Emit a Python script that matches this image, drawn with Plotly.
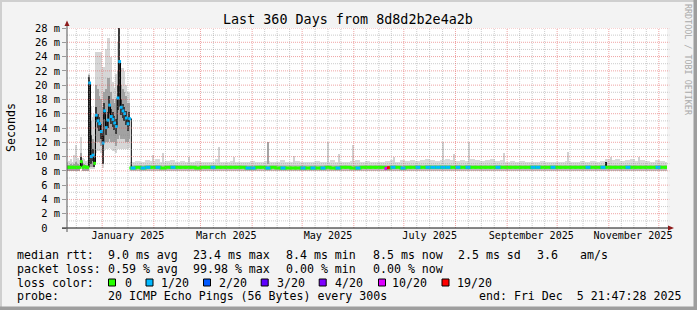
import plotly.graph_objects as go
import pandas as pd

# ---------------- data ----------------
START = pd.Timestamp("2024-12-10 21:47:28")
END = pd.Timestamp("2025-12-05 21:47:28")
TITLE = "Last 360 Days from 8d8d2b2e4a2b"

# early period, one value per day (Dec 11 2024 .. Jan 17 2025)
E_FIRST_DAY = "2024-12-11"
E_MED = [8.5, 8.5, 8.5, 8.5, 8.5, 8.5, 8.5, 8.5, 9.3, 8.5, 8.6, 8.5, 8.5,
         20.3, 10.0, 10.2, 9.05, 15.8, 15.0, 14.6, 13.5,
         11.9, 16.4, 14.05, 15.1, 17.2, 15.6, 15.2, 14.7, 14.2, 18.2, 23.3, 16.9, 16.4, 16.0, 15.4, 14.6, 15.3]
E_LOSS = [0, 0, 0, 0, 0, 0, 0, 0, 0, 0, 0, 0, 0,
          1, 1, 1, 0, 1, 1, 1, 1,
          1, 1, 1, 1, 1, 1, 1, 1, 1, 1, 1, 1, 1, 1, 1, 1, 1]
E_LO = [8.1, 8.1, 8.1, 8.1, 8.1, 8.1, 8.1, 8.1, 8.3, 8.1, 8.1, 8.1, 8.1,
        8.4, 8.3, 8.3, 8.3, 10.5, 10.8, 10.8, 10.5,
        8.4, 10.8, 11.0, 11.0, 11.2, 11.0, 10.8, 10.8, 10.5, 11.0, 11.0, 11.0, 11.0, 11.0, 11.0, 11.0, 11.2]
E_HI = [9.3, 9.4, 9.6, 9.3, 10.2, 11.6, 9.8, 9.5, 12.7, 9.8, 9.6, 9.4, 9.5,
        21.6, 17.0, 15.5, 16.0, 24.6, 24.6, 24.7, 24.7,
        22.6, 22.6, 25.0, 26.6, 26.6, 24.0, 20.5, 19.6, 21.5, 26.0, 28.0, 22.4, 22.4, 22.0, 20.0, 19.0, 18.9]
E_MLO = [8.05, 8.05, 8.05, 8.05, 8.05, 8.05, 8.05, 8.05, 8.5, 8.05, 8.05, 8.05, 8.05,
         8.5, 8.6, 8.5, 8.5, 12.0, 12.0, 12.0, 11.5,
         9.0, 12.0, 12.0, 12.0, 12.5, 12.0, 12.0, 12.0, 11.5, 12.5, 13.0, 12.5, 12.5, 12.5, 12.0, 12.0, 12.5]
E_MHI = [8.85, 8.85, 8.9, 8.85, 9.0, 9.2, 8.9, 8.85, 10.5, 8.9, 8.9, 8.85, 8.85,
         21.4, 15.0, 12.5, 12.0, 20.0, 19.5, 18.5, 18.0,
         17.0, 19.0, 19.5, 21.0, 21.0, 19.0, 18.0, 17.5, 18.0, 22.0, 28.0, 20.0, 19.5, 19.0, 18.5, 17.5, 17.5]
E_ILO = [8.4, 8.4, 8.4, 8.4, 8.4, 8.4, 8.4, 8.4, 8.6, 8.4, 8.4, 8.4, 8.4,
         8.6, 9.0, 9.4, 8.6, 14.8, 14.0, 13.6, 12.5,
         9.0, 15.2, 13.0, 14.0, 16.0, 14.6, 14.2, 13.7, 13.2, 16.5, 17.0, 15.8, 15.4, 15.0, 14.4, 13.6, 14.3]
E_IHI = [8.6, 8.6, 8.6, 8.6, 8.6, 8.6, 8.6, 8.6, 10.0, 8.6, 8.7, 8.6, 8.6,
         21.2, 13.0, 11.0, 9.8, 17.0, 16.0, 15.6, 14.5,
         13.0, 17.5, 15.0, 16.2, 18.5, 16.6, 16.2, 15.7, 15.2, 20.0, 28.0, 18.0, 17.4, 17.0, 16.4, 15.6, 16.3]

# stable period, one value per 3 days (Jan 18 2025 .. Dec 5 2025)
S_FIRST_DAY = "2025-01-18"
S_MED = [8.4, 8.5, 8.4, 8.5, 8.5, 8.5, 8.4, 8.5, 8.5, 8.5,
         8.5, 8.5, 8.5, 8.4, 8.5, 8.5, 8.5, 8.5, 8.5, 8.5,
         8.5, 8.5, 8.5, 8.4, 8.4, 8.5, 8.5, 8.4, 8.5, 8.4,
         8.4, 8.4, 8.4, 8.4, 8.4, 8.4, 8.4, 8.4, 8.4, 8.5,
         8.4, 8.4, 8.5, 8.5, 8.4, 8.4, 8.5, 8.5, 8.5, 8.5,
         8.5, 8.4, 8.5, 8.5, 8.4, 8.5, 8.5, 8.5, 8.5, 8.5,
         8.5, 8.5, 8.5, 8.5, 8.5, 8.5, 8.5, 8.5, 8.5, 8.5,
         8.5, 8.5, 8.5, 8.5, 8.5, 8.5, 8.5, 8.5, 8.5, 8.5,
         8.5, 8.5, 8.5, 8.5, 8.5, 8.5, 8.5, 8.5, 8.5, 8.5,
         8.5, 8.5, 8.5, 8.5, 8.5, 8.5, 8.5, 8.5, 8.5, 8.5,
         8.5, 8.5, 8.5, 8.5, 8.5, 8.5, 8.5, 8.5]
S_LOSS = [1, 0, 1, 1, 0, 1, 0, 0, 1, 0,
          0, 0, 0, 0, 0, 0, 1, 0, 0, 0,
          0, 0, 0, 1, 1, 0, 0, 1, 0, 0,
          1, 0, 0, 0, 1, 0, 1, 0, 1, 0,
          0, 1, 0, 0, 0, 1, 0, 0, 0, 0,
          0, 0, 1, 0, 1, 0, 0, 1, 0, 1,
          1, 1, 1, 1, 0, 1, 0, 1, 0, 0,
          0, 0, 0, 1, 0, 0, 0, 0, 0, 0,
          1, 1, 0, 0, 1, 0, 0, 0, 0, 0,
          0, 1, 0, 0, 1, 0, 0, 0, 0, 1,
          0, 0, 0, 0, 0, 1, 0, 0]
S_HI = [9.3, 9.4, 9.3, 9.5, 9.4, 9.6, 9.3, 9.4, 9.5, 9.3, 9.4,
        9.3, 9.2, 9.4, 9.3, 9.2, 9.3, 9.6, 9.3, 9.2, 9.4, 9.3, 9.2, 9.3, 9.4, 9.3,
        9.2, 9.4, 9.3, 9.2, 9.5, 9.3, 9.2, 9.4, 9.3, 9.2, 9.3, 9.4, 9.2, 9.3, 9.5, 9.3, 9.2, 9.3, 9.4, 9.5,
        9.3, 9.4, 9.3, 9.2, 9.3, 9.4, 9.5, 9.3, 9.5, 9.4, 9.5, 9.4, 9.5, 9.6, 9.5, 9.4, 9.5, 9.6, 9.5, 9.4,
        9.5, 9.4, 9.6, 9.5, 9.4, 9.5, 9.6, 9.4, 9.5, 9.3, 9.4, 9.3, 9.4, 9.3, 9.2, 9.3, 9.4, 9.3, 9.2, 9.3,
        9.3, 9.4, 9.2, 9.3, 9.4, 9.3, 9.4, 9.3, 9.4, 9.6, 9.5, 9.6, 9.4, 9.5, 9.6, 9.4, 9.5, 9.4, 9.3, 9.5, 9.4, 9.3]
S_LO = 8.0        # smoke floor in the stable period
S_MID_LO = 8.05   # denser smoke around the median
S_MID_HI = 8.85

# narrow smoke spikes (one day wide)
SPIKE_DATES = ["2025-01-31", "2025-02-06", "2025-02-22", "2025-03-12", "2025-03-21", "2025-04-26",
               "2025-05-16", "2025-05-23", "2025-05-31", "2025-06-25", "2025-07-24", "2025-07-31",
               "2025-08-09", "2025-08-30", "2025-10-07", "2025-11-02", "2025-11-19"]
SPIKE_HI = [10.2, 10.5, 9.9, 11.4, 10.0, 10.1, 12.1, 10.3, 11.6, 10.0, 12.1, 10.3, 12.1, 10.5, 10.7, 10.0, 9.9]
SPIKE_BASE = 9.0
DARK_SPIKE_DATES = ["2025-04-10"]
DARK_SPIKE_HI = [12.1]

# isolated high-loss samples and a dark smoke mark
EVENT_DATES = ["2025-06-20 06:00", "2025-06-21 18:00"]
EVENT_MED = [8.35, 8.45]
EVENT_LOSS = [10, 19]
MARK_DATES = ["2025-10-30 12:00"]
MARK_LO = [8.6]
MARK_HI = [9.3]

LOSS_LEVELS = [0, 1, 2, 3, 4, 10, 19]
LOSS_LABELS = ["0", "1/20", "2/20", "3/20", "4/20", "10/20", "19/20"]
LOSS_COLORS = ["#26ff00", "#00b8ff", "#0059ff", "#5e00ff", "#7e00ff", "#dd00ff", "#ff0000"]

Y_TICKS = list(range(0, 30, 2))
X_LABEL_DATES = ["2025-01-16 12:00", "2025-03-16 12:00", "2025-05-16 12:00",
                 "2025-07-16 12:00", "2025-09-15 12:00", "2025-11-15 12:00"]
X_LABELS = ["January 2025", "March 2025", "May 2025", "July 2025", "September 2025", "November 2025"]

STATS_ROWS = [
    ["median rtt:", "9.0 ms avg", "23.4 ms max", "8.4 ms min", "8.5 ms now", "2.5 ms sd", "3.6", "am/s"],
    ["packet loss:", "0.59 % avg", "99.98 % max", "0.00 % min", "0.00 % now"],
]
PROBE_TEXT = "20 ICMP Echo Pings (56 Bytes) every 300s"
END_TEXT = "end: Fri Dec\u00a0\u00a05 21:47:28 2025"
WATERMARK = "RRDTOOL / TOBI OETIKER"

# ---------------- geometry (pixels of the 697x310 image) ----------------
W, H = 697, 310
PL, PR, PT, PB = 67, 667, 28, 228
FONT = "DejaVu Sans Mono"


def px(x):
    return (x - PL) / (PR - PL)


def py(y):
    return (PB - y) / (PB - PT)


color_of = dict(zip(LOSS_LEVELS, LOSS_COLORS))
DAY = pd.Timedelta(days=1)

e_days = pd.date_range(E_FIRST_DAY, periods=len(E_MED), freq="D")
e_x = e_days + DAY / 2
s_days = pd.date_range(S_FIRST_DAY, periods=len(S_MED), freq="3D")
s_x = s_days + 1.5 * DAY

fig = go.Figure()


def band(x, lo, hi, width_days, color):
    fig.add_trace(go.Bar(
        x=x, base=lo, y=[h - l for l, h in zip(lo, hi)],
        width=width_days * 86400000, marker=dict(color=color, line=dict(width=0)),
        hoverinfo="skip", showlegend=False))


# stable smoke
band(s_x, [S_LO] * len(S_HI), S_HI, 3, "#d9d9d9")
band(pd.to_datetime(SPIKE_DATES) + DAY / 2, [SPIKE_BASE] * len(SPIKE_HI), SPIKE_HI, 1, "#d2d2d2")
band(pd.to_datetime(DARK_SPIKE_DATES) + DAY / 2, [SPIKE_BASE] * len(DARK_SPIKE_HI), DARK_SPIKE_HI, 1, "#a4a4a4")
band(s_x, [S_MID_LO] * len(S_HI), [S_MID_HI] * len(S_HI), 3, "#bdbdbd")
band(pd.to_datetime(MARK_DATES), MARK_LO, MARK_HI, 1, "#1a1a1a")

# early smoke (three densities)
band(e_x, E_LO, E_HI, 1, "#d6d6d6")
band(e_x, E_MLO, E_MHI, 1, "#a2a2a2")
band(e_x, E_ILO, E_IHI, 1, "#3a3a3a")

# median connector
fig.add_trace(go.Scatter(
    x=list(e_x) + [s_x[0]], y=E_MED + [S_MED[0]], mode="lines",
    line=dict(color="#000000", width=1, shape="hvh"), hoverinfo="skip", showlegend=False))


# median coloured by loss
def dashes(xs, ys, ls, size):
    cols = [color_of[v] for v in ls]
    fig.add_trace(go.Scatter(
        x=xs, y=ys, mode="markers",
        marker=dict(symbol="line-ew", size=size, color=cols, line=dict(width=3, color=cols)),
        hoverinfo="skip", showlegend=False))


dashes(e_x, E_MED, E_LOSS, 2)
# continuous median in the stable period, then the lossy samples drawn narrower on top
dashes(s_x, S_MED, [0] * len(S_MED), 5.2)
lossy = [i for i, v in enumerate(S_LOSS) if v > 0]
dashes([s_x[i] for i in lossy], [S_MED[i] for i in lossy], [S_LOSS[i] for i in lossy], 3.5)
dashes(pd.to_datetime(EVENT_DATES), EVENT_MED, EVENT_LOSS, 2)

shapes = []
MINOR_COL = "rgba(140,140,140,0.45)"
MAJOR_COL = "rgba(225,90,90,0.55)"
DASH = "1px,1px"

# horizontal grid
for v in range(1, 29):
    shapes.append(dict(type="line", xref="paper", yref="y", x0=0, x1=1.004, y0=v, y1=v, layer="above",
                       line=dict(color=MAJOR_COL if v % 2 == 0 else MINOR_COL, width=1, dash=DASH)))

# vertical grid: month starts (major) and quarter months (minor)
months = pd.date_range("2024-12-01", "2026-01-01", freq="MS")
for m0, m1 in zip(months[:-1], months[1:]):
    for k in range(4):
        t = m0 + (m1 - m0) * k / 4
        if START < t < END:
            shapes.append(dict(type="line", xref="x", yref="paper", x0=t, x1=t, y0=0, y1=1, layer="above",
                               line=dict(color=MAJOR_COL if k == 0 else MINOR_COL, width=1, dash=DASH)))

ARROW_COL = "#8c1a1a"
shapes.append(dict(type="line", xref="paper", yref="paper", x0=px(62), x1=px(670), y0=0, y1=0,
                   line=dict(color="#111111", width=1), layer="above"))
shapes.append(dict(type="line", xref="paper", yref="paper", x0=0, x1=0, y0=py(232), y1=py(25),
                   line=dict(color="#555555", width=1), layer="above"))
shapes.append(dict(type="path", xref="paper", yref="paper",
                   path=f"M{px(668)},{py(225.5)} L{px(674)},{py(228)} L{px(668)},{py(230.5)} Z",
                   fillcolor=ARROW_COL, line=dict(width=0), layer="above"))
shapes.append(dict(type="path", xref="paper", yref="paper",
                   path=f"M{px(64.5)},{py(26)} L{px(67)},{py(20.5)} L{px(69.5)},{py(26)} Z",
                   fillcolor=ARROW_COL, line=dict(width=0), layer="above"))

# frame
shapes.append(dict(type="rect", xref="paper", yref="paper", x0=px(0), x1=px(W), y0=py(0), y1=py(2),
                   fillcolor="#cfcfcf", line=dict(width=0)))
shapes.append(dict(type="rect", xref="paper", yref="paper", x0=px(0), x1=px(2), y0=py(0), y1=py(H),
                   fillcolor="#cfcfcf", line=dict(width=0)))
shapes.append(dict(type="rect", xref="paper", yref="paper", x0=px(0), x1=px(W), y0=py(306.5), y1=py(H),
                   fillcolor="#9e9e9e", line=dict(width=0)))
shapes.append(dict(type="rect", xref="paper", yref="paper", x0=px(693.5), x1=px(W), y0=py(0), y1=py(H),
                   fillcolor="#9e9e9e", line=dict(width=0)))

annotations = []


def text(s, x, y, size=11.6, anchor="left", color="#000000", angle=0):
    annotations.append(dict(text=s, xref="paper", yref="paper", x=px(x), y=py(y), xanchor=anchor,
                            yanchor="middle", showarrow=False, borderpad=0, textangle=angle,
                            font=dict(family=FONT, size=size, color=color)))


text(TITLE, 348, 19.5, size=13.4, anchor="center")
text("Seconds", 10.5, 127.5, size=11.6, anchor="center", angle=-90)
text(WATERMARK, 688, 60, size=8.4, anchor="center", color="#aaaaaa", angle=90)

ROW_Y = [254.6, 268.6, 282.6, 296.4]
COLS_X = [15.5, 106.6, 192.0, 285.3, 372.0, 456.8, 535.5, 578.6]
for r, row in enumerate(STATS_ROWS):
    for c, s in enumerate(row):
        text(s, COLS_X[c], ROW_Y[r])

text("loss color:", 15.5, ROW_Y[2])
BOX_X = [108.5, 146.0, 203.5, 261.2, 319.2, 378.5, 442.0]
LBL_X = [123.5, 160.2, 217.8, 276.2, 333.8, 391.2, 456.2]
for bx, lx, lab, col in zip(BOX_X, LBL_X, LOSS_LABELS, LOSS_COLORS):
    shapes.append(dict(type="rect", xref="paper", yref="paper", x0=px(bx), x1=px(bx + 7), y0=py(279),
                       y1=py(286), fillcolor=col, line=dict(color="#000000", width=1)))
    text(lab, lx, ROW_Y[2])

text("probe:", 15.5, ROW_Y[3])
text(PROBE_TEXT, 106.6, ROW_Y[3])
text(END_TEXT, 477.8, ROW_Y[3])

fig.update_layout(
    width=W, height=H,
    margin=dict(l=PL, r=W - PR, t=PT, b=H - PB, pad=0),
    paper_bgcolor="#f3f3f3", plot_bgcolor="#ffffff",
    barmode="overlay", bargap=0, showlegend=False,
    font=dict(family=FONT, color="#000000"),
    shapes=shapes, annotations=annotations,
    xaxis=dict(type="date", range=[START, END], showgrid=False, zeroline=False, showline=False,
               tickvals=pd.to_datetime(X_LABEL_DATES), ticktext=X_LABELS, ticks="",
               tickfont=dict(family=FONT, size=10.1)),
    yaxis=dict(range=[0, 28], showgrid=False, zeroline=False, showline=False,
               tickvals=Y_TICKS, ticktext=["0\u00a0\u00a0"] + [f"{v} m" for v in Y_TICKS[1:]],
               ticks="outside", ticklen=4, tickcolor="#9a9a9a", tickwidth=1,
               tickfont=dict(family=FONT, size=10.4)),
)

fig.write_html("out.html")
